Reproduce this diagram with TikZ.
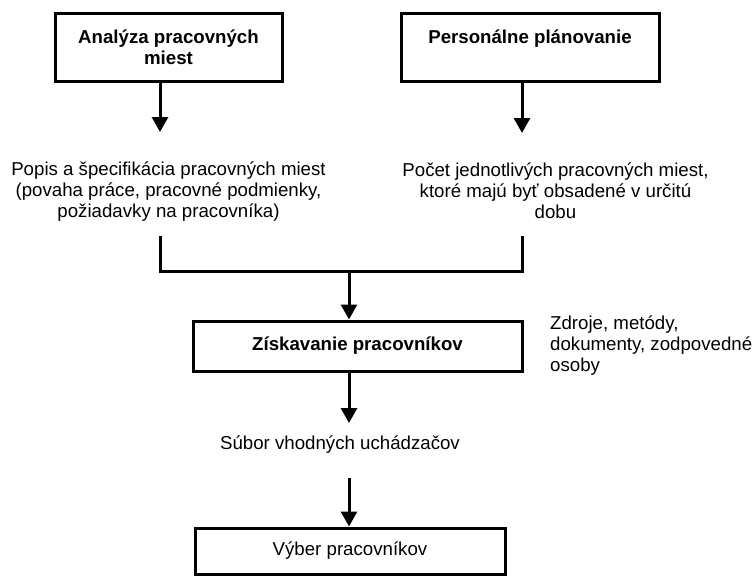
\documentclass[tikz,border=0pt]{standalone}
\usepackage{fontspec}
\setmainfont{Liberation Sans}
\usetikzlibrary{positioning, arrows.meta, calc}
\newcommand{\diagfont}{\fontsize{18.67}{21}\selectfont}

\begin{document}
\begin{tikzpicture}[
  x=1pt, y=-1pt,
  box/.style={draw, line width=3pt, align=center, inner sep=0pt,
              font=\diagfont},
  txt/.style={align=center, inner sep=0pt, font=\diagfont},
  arr/.style={->, line width=3pt},
  >={Triangle[width=16pt, length=15pt]}
]
  \useasboundingbox (0,0) rectangle (756,576);

  % Top: two sources
  \node[box, minimum width=227pt, minimum height=68pt] (analyza) at (168.5,47)
    {\bfseries Analýza pracovných\\\bfseries miest};
  \node[box, minimum width=258pt, minimum height=68pt] (plan) at (530,47)
    {\bfseries Personálne plánovanie\\\mbox{}};

  % What they give
  \node[txt] (popis) at (168.5,192)
    {Popis a špecifikácia pracovných miest\\
     (povaha práce, pracovné podmienky,\\
     požiadavky na pracovníka)};
  \node[txt] (pocet) at (555.5,191)
    {Počet jednotlivých pracovných miest,\\
     ktoré majú byť obsadené v určitú\\
     dobu};

  % Recruiting
  \node[box, minimum width=329pt, minimum height=50pt] (ziskavanie) at (357.5,346)
    {\bfseries Získavanie pracovníkov};
  \node[txt, align=left, anchor=west] (zdroje) at (550,346)
    {Zdroje, metódy,\\
     dokumenty, zodpovedné\\
     osoby};

  % Candidates and selection
  \node[txt] (subor) at (340,445) {Súbor vhodných uchádzačov};
  \node[box, minimum width=310pt, minimum height=46pt] (vyber) at (350,551)
    {Výber pracovníkov};

  % Connector ends
  \coordinate (a1) at (160,132);
  \coordinate (p1) at (522,133);
  \coordinate (l1) at (160,236);
  \coordinate (r1) at (522,236);
  \coordinate (m1) at (349,271);
  \coordinate (s1) at (349,423);
  \coordinate (s2) at (349,478);

  % Arrows
  \draw[arr] (a1 |- analyza.south) -- (a1);
  \draw[arr] (p1 |- plan.south) -- (p1);
  \draw[line width=3pt] (l1) |- (m1) -| (r1);
  \draw[arr] (m1) -- (m1 |- ziskavanie.north);
  \draw[arr] (s1 |- ziskavanie.south) -- (s1);
  \draw[arr] (s2) -- (s2 |- vyber.north);
\end{tikzpicture}
\end{document}
